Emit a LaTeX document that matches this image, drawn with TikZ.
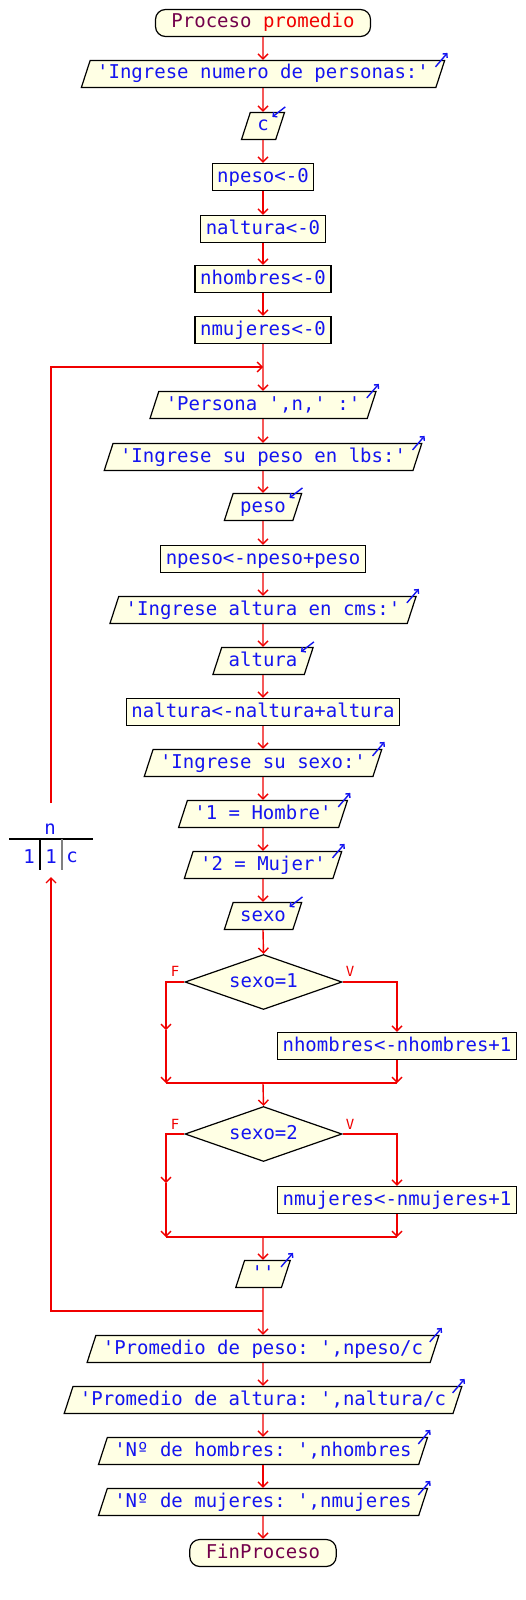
\documentclass[tikz,border=0pt]{standalone}
\usepackage{fontspec}
\setmonofont{DejaVu Sans Mono}
\usepackage{xcolor}
\usetikzlibrary{shapes.geometric, arrows.meta}
\definecolor{crema}{RGB}{255,255,228}
\definecolor{azulps}{RGB}{20,20,240}
\definecolor{moradops}{RGB}{115,0,75}
\definecolor{rojops}{RGB}{240,0,0}
\tikzset{
  flujo/.style={draw=rojops, line width=0.7pt, -{Straight Barb[length=2.5pt,width=5pt]}},
  linea/.style={draw=rojops, line width=0.7pt},
  base/.style={draw=black, line width=0.6pt, fill=crema, text=azulps,
    font=\ttfamily\fontsize{9.5}{11}\selectfont,
    text height=7pt, text depth=2pt, inner ysep=2.25pt},
  asig/.style={base, rectangle, inner xsep=2.5pt},
  entsal/.style={base, trapezium, trapezium left angle=72, trapezium right angle=108,
    trapezium stretches body, inner xsep=3.5pt},
  decision/.style={base, diamond, aspect=2.85, inner sep=0pt,
    minimum width=78.5pt, minimum height=27.5pt},
  terminal/.style={base, rectangle, rounded corners=5pt, inner xsep=8pt, text=moradops},
  etiq/.style={text=rojops, font=\ttfamily\fontsize{7}{8}\selectfont, inner sep=0pt},
  texto/.style={text=azulps, font=\ttfamily\fontsize{9.5}{11}\selectfont, inner sep=0pt},
  icono/.style={draw=azulps, line width=0.7pt, -{Straight Barb[length=1.5pt,width=3pt]}}
}

\begin{document}
\begin{tikzpicture}[x=0.5pt, y=-0.5pt]
\useasboundingbox (0,0) rectangle (525,1600);

% cabecera
\node[terminal] (ini) at (263,23) {Proceso \textcolor{rojops}{promedio}};
\node[entsal] (p1) at (263,74) {'Ingrese numero de personas:'};
\node[entsal] (r1) at (263,126) {c};
\node[asig] (a1) at (263,177) {npeso<-0};
\node[asig] (a2) at (263,229) {naltura<-0};
\node[asig] (a3) at (263,279) {nhombres<-0};
\node[asig] (a4) at (263,330) {nmujeres<-0};

% cuerpo del ciclo
\node[entsal] (p2) at (263,405) {'Persona ',n,' :'};
\node[entsal] (p3) at (263,457) {'Ingrese su peso en lbs:'};
\node[entsal] (r2) at (263,507) {peso};
\node[asig] (a5) at (263,559) {npeso<-npeso+peso};
\node[entsal] (p4) at (263,610) {'Ingrese altura en cms:'};
\node[entsal] (r3) at (263,661) {altura};
\node[asig] (a6) at (263,712) {naltura<-naltura+altura};
\node[entsal] (p5) at (263,763) {'Ingrese su sexo:'};
\node[entsal] (p6) at (263,814) {'1 = Hombre'};
\node[entsal] (p7) at (263,865) {'2 = Mujer'};
\node[entsal] (r4) at (263,916) {sexo};
\node[decision] (d1) at (263.5,982) {sexo=1};
\node[asig] (a7) at (397,1046) {nhombres<-nhombres+1};
\node[decision] (d2) at (263.5,1134) {sexo=2};
\node[asig] (a8) at (397,1200) {nmujeres<-nmujeres+1};
\node[entsal] (p8) at (263,1274) {''};

% resultados
\node[entsal] (p9) at (263,1349) {'Promedio de peso: ',npeso/c};
\node[entsal] (p10) at (263,1400) {'Promedio de altura: ',naltura/c};
\node[entsal] (p11) at (263,1451) {'Nº de hombres: ',nhombres};
\node[entsal] (p12) at (263,1502) {'Nº de mujeres: ',nmujeres};
\node[terminal] (fin) at (263,1553) {FinProceso};

% iconos de lectura y escritura
\foreach \n in {p1,p2,p3,p4,p5,p6,p7,p8,p9,p10,p11,p12}{
    \draw[icono] ([xshift=-5pt,yshift=-3.5pt]\n.top right corner) -- ++(6pt,7pt);
}
\foreach \n in {r1,r2,r3,r4}{
    \draw[icono] ([yshift=2.5pt]\n.top right corner) -- ++(-6.5pt,-5pt);
}

% flechas en secuencia
\foreach \a/\b in {ini/p1, p1/r1, r1/a1, a1/a2, a2/a3, a3/a4, a4/p2, p2/p3, p3/r2,
    r2/a5, a5/p4, p4/r3, r3/a6, a6/p5, p5/p6, p6/p7, p7/r4, r4/d1, p8/p9,
    p9/p10, p10/p11, p11/p12, p12/fin}{
    \draw[flujo] (\a.south) -- (\b.north);
}

% primera condicion
\coordinate (f1) at (166,1030);
\coordinate (m1i) at (166,1083);
\coordinate (m1) at (263,1083);
\draw[flujo] (d1.east) -| (a7.north);
\draw[flujo] (d1.west) -| (f1);
\draw[flujo] (f1) -- (m1i);
\draw[flujo] (a7.south) -- (a7.south |- m1);
\draw[linea] (m1i) -- (a7.south |- m1);
\draw[flujo] (m1) -- (d2.north);
\node[etiq] (lf1) at (175,971) {F};
\node[etiq] (lv1) at (350,971) {V};

% segunda condicion
\coordinate (f2) at (166,1183);
\coordinate (m2i) at (166,1237);
\coordinate (m2) at (263,1237);
\draw[flujo] (d2.east) -| (a8.north);
\draw[flujo] (d2.west) -| (f2);
\draw[flujo] (f2) -- (m2i);
\draw[flujo] (a8.south) -- (a8.south |- m2);
\draw[linea] (m2i) -- (a8.south |- m2);
\draw[flujo] (m2) -- (p8.north);
\node[etiq] (lf2) at (175,1124) {F};
\node[etiq] (lv2) at (350,1124) {V};

% bloque del Para
\node[texto] (var) at (50,829) {n};
\node[texto] (vini) at (29,857) {1};
\node[texto] (vpaso) at (51,857) {1};
\node[texto] (vfin) at (72,857) {c};
\draw[black, line width=0.6pt] (9,839) -- (93,839);
\draw[black, line width=0.6pt] (40,839) -- (40,870);
\draw[gray, line width=0.6pt] (62,839) -- (62,870);

% regreso del ciclo
\coordinate (union) at (263,367);
\coordinate (retorno) at (263,1311);
\coordinate (lazoN) at (51,803);
\coordinate (lazoS) at (51,877);
\draw[flujo] (lazoN) |- (union);
\draw[flujo] (retorno) -| (lazoS);
\end{tikzpicture}
\end{document}
